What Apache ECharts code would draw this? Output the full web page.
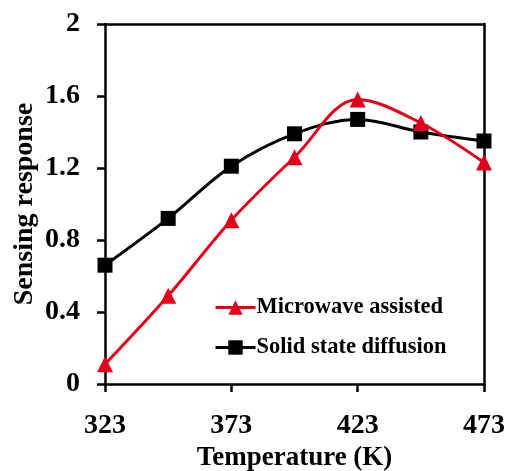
<!DOCTYPE html>
<html>
<head>
<meta charset="utf-8">
<script src="https://cdn.jsdelivr.net/npm/echarts@6/dist/echarts.min.js"></script>
<style>
  html, body { margin: 0; padding: 0; background: #fff; }
  #chart { width: 508px; height: 471px; }
</style>
</head>
<body>
<div id="chart"></div>
<script>
// Operating temperatures (K)
const temperatures = [323, 348, 373, 398, 423, 448, 473];
// Sensing response of the two synthesis routes
const microwaveAssisted = [0.11, 0.49, 0.91, 1.26, 1.58, 1.45, 1.23];
const solidStateDiffusion = [0.66, 0.92, 1.21, 1.39, 1.47, 1.40, 1.35];
// Axis ticks
const xTicks = [323, 373, 423, 473];
const yMin = 0, yMax = 2, yStep = 0.4;

const FONT = '"Liberation Serif", "Times New Roman", serif';
const chart = echarts.init(document.getElementById('chart'));

const pairs = (ys) => temperatures.map((t, i) => [t, ys[i]]);

chart.setOption({
  animation: false,
  textStyle: { fontFamily: FONT, fontWeight: 'bold', color: '#000' },
  grid: { left: 105, right: 24, top: 24, bottom: 87, containLabel: false, outerBoundsMode: 'none' },
  legend: {
    orient: 'vertical',
    left: 209,
    top: 291,
    itemWidth: 40,
    itemHeight: 18,
    itemGap: 17,
    lineStyle: { width: 3 },
    textStyle: { fontFamily: FONT, fontWeight: 'bold', fontSize: 22.5, color: '#000', padding: [0, 0, 0, -4] },
    data: ['Microwave assisted', 'Solid state diffusion']
  },
  xAxis: [{
    type: 'value',
    min: xTicks[0],
    max: xTicks[xTicks.length - 1],
    interval: 50,
    name: 'Temperature (K)',
    nameLocation: 'middle',
    nameGap: 61,
    nameMoveOverlap: false,
    nameTextStyle: { fontFamily: FONT, fontWeight: 'bold', fontSize: 27, color: '#000' },
    axisLine: { lineStyle: { color: '#000', width: 2.5 } },
    axisTick: { length: 8, lineStyle: { color: '#000', width: 2.5 } },
    axisLabel: { margin: 28, fontFamily: FONT, fontWeight: 'bold', fontSize: 28, color: '#000' },
    splitLine: { show: false }
  }, {
    type: 'value',
    position: 'top',
    min: xTicks[0],
    max: xTicks[xTicks.length - 1],
    axisLine: { onZero: false, lineStyle: { color: '#000', width: 2.5 } },
    axisTick: { show: false },
    axisLabel: { show: false },
    splitLine: { show: false }
  }],
  yAxis: [{
    type: 'value',
    min: yMin,
    max: yMax,
    interval: yStep,
    name: 'Sensing response',
    nameLocation: 'middle',
    nameGap: 66,
    nameMoveOverlap: false,
    nameTextStyle: { fontFamily: FONT, fontWeight: 'bold', fontSize: 28, color: '#000' },
    axisLine: { show: true, lineStyle: { color: '#000', width: 2.5 } },
    axisTick: { show: true, length: 8, lineStyle: { color: '#000', width: 2.5 } },
    axisLabel: {
      margin: 25, fontFamily: FONT, fontWeight: 'bold', fontSize: 28, color: '#000',
      formatter: (v) => (v === 0 || v === 2) ? String(v) : v.toFixed(1)
    },
    splitLine: { show: false }
  }, {
    type: 'value',
    position: 'right',
    min: yMin,
    max: yMax,
    axisLine: { show: true, onZero: false, lineStyle: { color: '#000', width: 2.5 } },
    axisTick: { show: false },
    axisLabel: { show: false },
    splitLine: { show: false }
  }],
  series: [{
    name: 'Microwave assisted',
    type: 'line',
    smooth: 0.35,
    data: pairs(microwaveAssisted),
    symbol: 'triangle',
    symbolSize: 16,
    color: '#e3001b',
    lineStyle: { width: 3, color: '#e3001b' },
    itemStyle: { color: '#e3001b' },
    z: 3
  }, {
    name: 'Solid state diffusion',
    type: 'line',
    smooth: 0.35,
    data: pairs(solidStateDiffusion),
    symbol: 'rect',
    symbolSize: 15,
    color: '#000',
    lineStyle: { width: 3, color: '#000' },
    itemStyle: { color: '#000' },
    z: 2
  }]
});
</script>
</body>
</html>
